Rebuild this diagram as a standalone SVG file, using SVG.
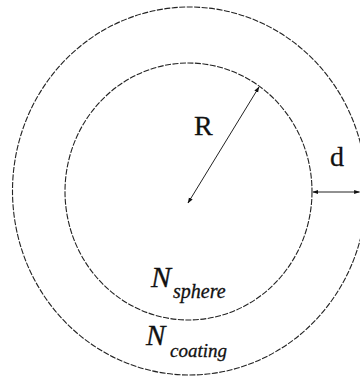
<svg xmlns="http://www.w3.org/2000/svg" width="360" height="376" viewBox="0 0 360 376">
<style>
.ring{fill:none;stroke:#222;stroke-width:1.1;stroke-dasharray:6 1.5}
.dim{stroke:#222;stroke-width:1;fill:none}
.t{font-family:"Liberation Serif","Times New Roman",serif;fill:#111;stroke:#111;stroke-width:0.3}
.i{font-style:italic}
</style>
<defs>
<marker id="ah" viewBox="0 0 10 10" refX="9" refY="5" markerWidth="6" markerHeight="6" orient="auto-start-reverse" markerUnits="userSpaceOnUse">
<path d="M0,1.5 L10,5 L0,8.5 z" fill="#111"/>
</marker>
</defs>
<rect width="360" height="376" fill="#fff"/>
<g id="outer">
<ellipse class="ring" cx="189.5" cy="191" rx="177" ry="184"/>
</g>
<g id="inner">
<ellipse class="ring" cx="188.5" cy="191.5" rx="123.5" ry="128.5"/>
</g>
<g id="connectors">
<line class="dim" x1="188" y1="203" x2="259" y2="87" marker-start="url(#ah)" marker-end="url(#ah)"/>
<line class="dim" x1="313" y1="192" x2="359.5" y2="192" marker-start="url(#ah)" marker-end="url(#ah)"/>
</g>
<g id="labels">
<text class="t" x="194" y="135" font-size="28">R</text>
<text class="t" x="330" y="166" font-size="28">d</text>
<text class="t i" x="151" y="287" font-size="30">N</text>
<text class="t i" x="173" y="298" font-size="20">sphere</text>
<text class="t i" x="146" y="345" font-size="29">N</text>
<text class="t i" x="170" y="357" font-size="19">coating</text>
</g>
</svg>
